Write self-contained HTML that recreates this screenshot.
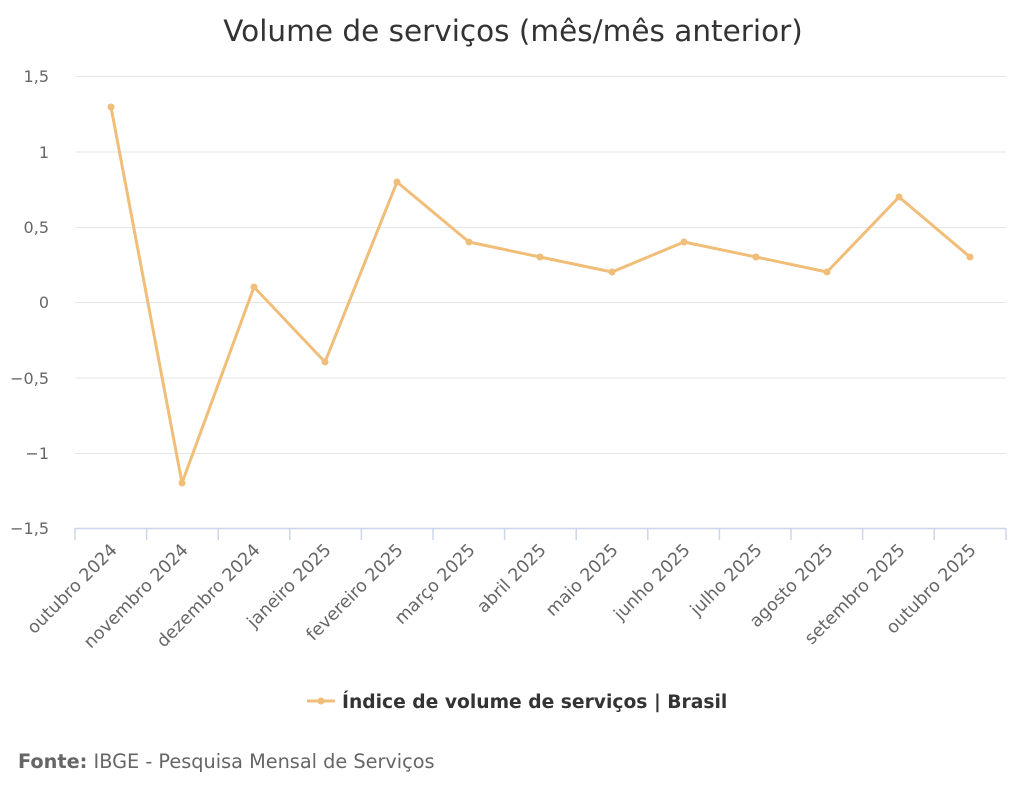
<!DOCTYPE html>
<html><head><meta charset="utf-8"><style>
body{margin:0;background:#fff;}
svg text{font-family:"DejaVu Sans","Liberation Sans",sans-serif;}
</style></head><body>
<svg width="1024" height="794" viewBox="0 0 1024 794" xmlns="http://www.w3.org/2000/svg">
<rect width="1024" height="794" fill="#fff"/>
<text x="513" y="41" text-anchor="middle" font-size="29.5" fill="#333">Volume de serviços (mês/mês anterior)</text>
<g stroke="#e6e6e6" stroke-width="1">
<line x1="75" x2="1006" y1="76.5" y2="76.5"/>
<line x1="75" x2="1006" y1="152" y2="152"/>
<line x1="75" x2="1006" y1="227.5" y2="227.5"/>
<line x1="75" x2="1006" y1="302.5" y2="302.5"/>
<line x1="75" x2="1006" y1="378" y2="378"/>
<line x1="75" x2="1006" y1="453.5" y2="453.5"/>
</g>
<line x1="75" x2="1006" y1="528.5" y2="528.5" stroke="#ccd6eb" stroke-width="1.5"/>
<g stroke="#ccd6eb" stroke-width="1.5">
<line x1="75" x2="75" y1="528" y2="540"/><line x1="146.6" x2="146.6" y1="528" y2="540"/><line x1="218.2" x2="218.2" y1="528" y2="540"/><line x1="289.8" x2="289.8" y1="528" y2="540"/><line x1="361.4" x2="361.4" y1="528" y2="540"/><line x1="433" x2="433" y1="528" y2="540"/><line x1="504.6" x2="504.6" y1="528" y2="540"/><line x1="576.2" x2="576.2" y1="528" y2="540"/><line x1="647.8" x2="647.8" y1="528" y2="540"/><line x1="719.4" x2="719.4" y1="528" y2="540"/><line x1="791" x2="791" y1="528" y2="540"/><line x1="862.6" x2="862.6" y1="528" y2="540"/><line x1="934.2" x2="934.2" y1="528" y2="540"/><line x1="1006" x2="1006" y1="528" y2="540"/>
</g>
<g font-size="16" fill="#666" text-anchor="end">
<text x="49" y="82">1,5</text><text x="49" y="158">1</text><text x="49" y="233">0,5</text><text x="49" y="308">0</text><text x="49" y="384">−0,5</text><text x="49" y="459">−1</text><text x="49" y="534">−1,5</text>
</g>
<g font-size="17.5" fill="#666" text-anchor="end">
<text transform="translate(118,551) rotate(-45)">outubro 2024</text>
<text transform="translate(189,551) rotate(-45)">novembro 2024</text>
<text transform="translate(261,551) rotate(-45)">dezembro 2024</text>
<text transform="translate(332,551) rotate(-45)">janeiro 2025</text>
<text transform="translate(404,551) rotate(-45)">fevereiro 2025</text>
<text transform="translate(476,551) rotate(-45)">março 2025</text>
<text transform="translate(547,551) rotate(-45)">abril 2025</text>
<text transform="translate(619,551) rotate(-45)">maio 2025</text>
<text transform="translate(691,551) rotate(-45)">junho 2025</text>
<text transform="translate(763,551) rotate(-45)">julho 2025</text>
<text transform="translate(834,551) rotate(-45)">agosto 2025</text>
<text transform="translate(906,551) rotate(-45)">setembro 2025</text>
<text transform="translate(977,551) rotate(-45)">outubro 2025</text>
</g>
<polyline fill="none" stroke="#f0be78" stroke-width="3" stroke-linejoin="round" points="111,107 182,483 254,287 325,362 397,182 469,242 540,257 612,272 684,242 756,257 827,272 899,197 970,257"/>
<g fill="#f0be78">
<circle cx="111" cy="107" r="3.5"/><circle cx="182" cy="483" r="3.5"/><circle cx="254" cy="287" r="3.5"/><circle cx="325" cy="362" r="3.5"/><circle cx="397" cy="182" r="3.5"/><circle cx="469" cy="242" r="3.5"/><circle cx="540" cy="257" r="3.5"/><circle cx="612" cy="272" r="3.5"/><circle cx="684" cy="242" r="3.5"/><circle cx="756" cy="257" r="3.5"/><circle cx="827" cy="272" r="3.5"/><circle cx="899" cy="197" r="3.5"/><circle cx="970" cy="257" r="3.5"/>
</g>
<line x1="307" x2="335" y1="701" y2="701" stroke="#f0be78" stroke-width="3"/>
<circle cx="321" cy="701" r="3.5" fill="#f0be78"/>
<text x="342" y="708" font-size="18.7" font-weight="bold" fill="#333">Índice de volume de serviços | Brasil</text>
<text x="18" y="768" font-size="19.3" fill="#666"><tspan font-weight="bold">Fonte:</tspan> IBGE - Pesquisa Mensal de Serviços</text>
</svg>
</body></html>
